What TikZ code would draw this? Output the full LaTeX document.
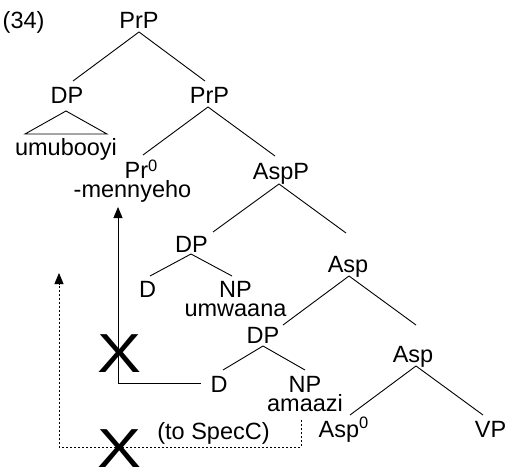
\documentclass[tikz,border=0pt]{standalone}
\usepackage{fontspec}
\setmainfont{Liberation Sans}
\usetikzlibrary{arrows.meta}
\newcommand{\zsup}[1]{\raisebox{7pt}{\fontsize{16.5}{16}\selectfont #1}}
\begin{document}
\begin{tikzpicture}[x=1pt,y=-1pt,
  lab/.style={anchor=base,inner sep=0pt,font=\fontsize{23.5}{28}\selectfont},
  stack/.style={anchor=base,inner sep=0pt,align=center,font=\fontsize{23.5}{18.5}\selectfont},
  bigx/.style={anchor=base,inner sep=0pt,font=\fontsize{55}{55}\selectfont},
  branch/.style={line width=0.9pt},
  movearr/.style={line width=0.9pt,-{Triangle[width=9pt,length=11pt]}},
  failarr/.style={line width=0.9pt,dash pattern=on 2pt off 2pt,-{Triangle[width=9pt,length=11pt]}}]
\useasboundingbox (0,0) rectangle (506,468);
% nodes
\node[lab,anchor=base west] (ex) at (2.5,29) {(34)};
\node[lab] (prp) at (139,29) {PrP};
\node[lab] (dp1) at (67,104) {DP};
\node[lab] (prp2) at (209.5,104) {PrP};
\node[lab] (umu) at (66,156) {umubooyi};
\node[stack] (pr0) at (132.5,197) {\hspace*{17pt}Pr\zsup{0}\\-mennyeho};
\node[lab] (aspp) at (281,179) {AspP};
\node[lab] (dp2) at (191.5,252) {DP};
\node[lab] (d1) at (147.5,297) {D};
\node[stack] (np1) at (235.5,316) {NP\\umwaana};
\node[lab] (asp1) at (348,272) {Asp};
\node[lab] (dp3) at (263,343) {DP};
\node[lab] (d2) at (219,392) {D};
\node[stack] (np2) at (305,411) {NP\\amaazi};
\node[lab] (asp2) at (413,362) {Asp};
\node[lab] (asp0) at (343.5,437) {Asp\raisebox{2pt}{\zsup{0}}};
\node[lab] (vp) at (490.5,437) {VP};
\node[lab] (tospec) at (213.5,439) {(to SpecC)};
\node[bigx] (x1) at (120,372) {\scalebox{1.2}[1]{X}};
\node[bigx] (x2) at (120,467) {\scalebox{1.2}[1]{X}};
% branches
\draw[branch] ([shift={(0,3)}]prp.base) -- ([shift={(6,-23)}]dp1.base);
\draw[branch] ([shift={(0,3)}]prp.base) -- ([shift={(-4.5,-23)}]prp2.base);
\draw[branch] ([shift={(-1,7)}]dp1.base) -- ([shift={(-42,30)}]dp1.base) -- ([shift={(40,30)}]dp1.base) -- cycle;
\draw[branch] ([shift={(-1.5,3)}]prp2.base) -- ([shift={(10.5,-42)}]pr0.base);
\draw[branch] ([shift={(-1.5,3)}]prp2.base) -- ([shift={(-6,-23)}]aspp.base);
\draw[branch] ([shift={(-2,5)}]aspp.base) -- ([shift={(21.5,-20)}]dp2.base);
\draw[branch] ([shift={(-2,5)}]aspp.base) -- ([shift={(-2,-39)}]asp1.base);
\draw[branch] ([shift={(-0.5,2)}]dp2.base) -- ([shift={(2.5,-21)}]d1.base);
\draw[branch] ([shift={(-0.5,2)}]dp2.base) -- ([shift={(-3.5,-40)}]np1.base);
\draw[branch] ([shift={(1,4)}]asp1.base) -- ([shift={(20,-18)}]dp3.base);
\draw[branch] ([shift={(1,4)}]asp1.base) -- ([shift={(3,-37)}]asp2.base);
\draw[branch] ([shift={(0,3)}]dp3.base) -- ([shift={(4,-22)}]d2.base);
\draw[branch] ([shift={(0,3)}]dp3.base) -- ([shift={(0,-41)}]np2.base);
\draw[branch] ([shift={(3,4)}]asp2.base) -- ([shift={(6.5,-22)}]asp0.base);
\draw[branch] ([shift={(3,4)}]asp2.base) -- ([shift={(-7.5,-22)}]vp.base);
% movement arrows
\coordinate (tip1) at (118,207);
\coordinate (tip2) at (59,273);
\draw[movearr] ([shift={(-18,-9)}]d2.base) -| (tip1);
\draw[failarr] ([shift={(-4,9)}]np2.base) -- ++(0,27) -| (tip2);
\end{tikzpicture}
\end{document}
